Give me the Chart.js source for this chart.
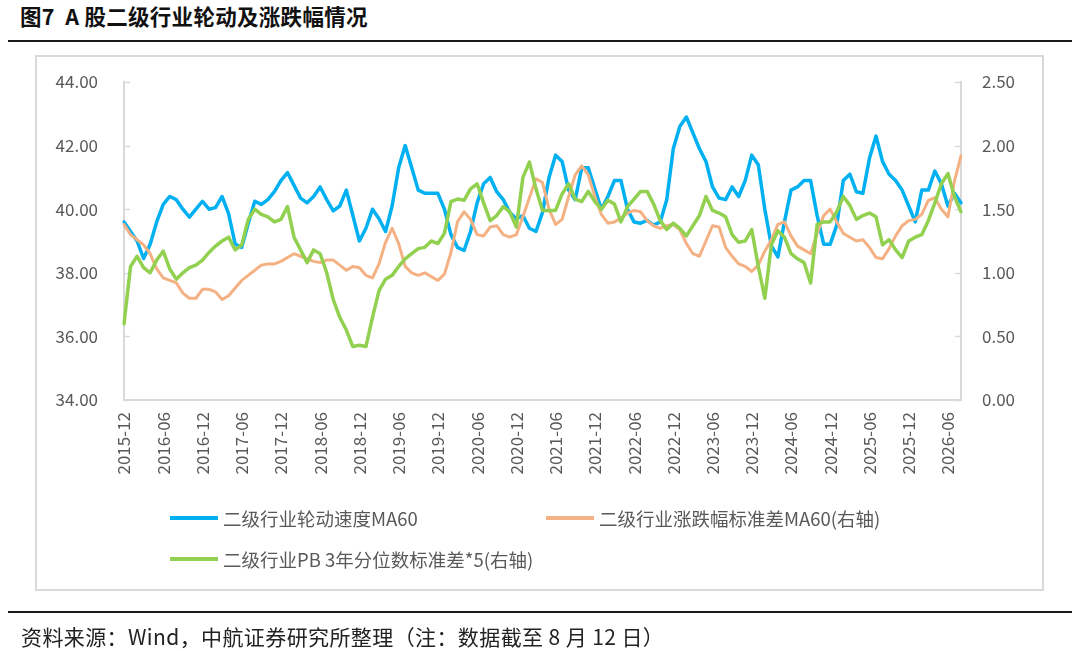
<!DOCTYPE html>
<html>
<head>
<meta charset="utf-8">
<script src="https://cdn.jsdelivr.net/npm/chart.js@4.4.1/dist/chart.umd.min.js"></script>
<style>
    body { margin: 0; background: #fff; }
    #page { position: relative; width: 1080px; height: 651px; overflow: hidden; font-family: "Noto Sans CJK SC", sans-serif; }
    .title { position: absolute; left: 20px; top: 5px; font-size: 21.5px; line-height: 22px; font-weight: bold; color: #111; white-space: pre; letter-spacing: 0.3px; }
    .rule { position: absolute; left: 8px; width: 1064px; height: 2px; background: #1a1a1a; }
    .frame { position: absolute; left: 35px; top: 55px; width: 1005px; height: 532px; border: 2px solid #d9d9d9; }
    #chart { position: absolute; left: 0; top: 0; }
    .legend-item { position: absolute; display: flex; align-items: center; height: 20px; font-size: 18.5px; color: #595959; white-space: nowrap; }
    .legend-item i { display: inline-block; width: 48px; height: 4px; margin-right: 5px; }
    .note { position: absolute; left: 21px; top: 625px; font-size: 21px; line-height: 22px; letter-spacing: 0.4px; color: #222; white-space: nowrap; }
</style>
</head>
<body>
<div id="page">
    <div class="title">图7  A 股二级行业轮动及涨跌幅情况</div>
    <div class="rule" style="top:40px"></div>
    <div class="frame"></div>
    <canvas id="chart" width="1080" height="651"></canvas>
    <div class="legend-item" style="left:170px; top:508px"><i style="background:#00B0F0"></i>二级行业轮动速度MA60</div>
    <div class="legend-item" style="left:546px; top:508px"><i style="background:#F4B183"></i>二级行业涨跌幅标准差MA60(右轴)</div>
    <div class="legend-item" style="left:170px; top:549px"><i style="background:#92D050"></i>二级行业PB 3年分位数标准差*5(右轴)</div>
    <div class="rule" style="top:611px"></div>
    <div class="note">资料来源：Wind，中航证券研究所整理（注：数据截至 8 月 12 日）</div>
</div>
<script>
// monthly samples, 2015-12 .. 2026-08
const startYear = 2015;
const startMonth = 12;
const monthCount = 129;

const tickLabels = ['2015-12', '2016-06', '2016-12', '2017-06', '2017-12', '2018-06', '2018-12',
    '2019-06', '2019-12', '2020-06', '2020-12', '2021-06', '2021-12', '2022-06', '2022-12',
    '2023-06', '2023-12', '2024-06', '2024-12', '2025-06', '2025-12', '2026-06'];

// 二级行业轮动速度MA60 (left axis)
const rotationSpeed = [
    39.6, 39.3, 39.0, 38.45, 38.9, 39.6, 40.15, 40.4, 40.3, 40.0, 39.75, 40.0, 40.25, 40.0, 40.05, 40.4,
    39.85, 38.9, 38.8, 39.55, 40.25, 40.15, 40.3, 40.55, 40.9, 41.15, 40.75, 40.35, 40.2, 40.4, 40.7, 40.3, 39.95,
    40.1, 40.6, 39.8, 39.0, 39.4, 40.0, 39.7, 39.3, 40.1, 41.3, 42.0, 41.3, 40.6, 40.5, 40.5, 40.5,
    40.0, 39.2, 38.8, 38.7, 39.3, 40.2, 40.8, 41.0, 40.55, 40.3, 39.9, 39.7, 39.8, 39.4, 39.3, 39.9, 41.0,
    41.7, 41.5, 40.6, 40.3, 41.3, 41.3, 40.65, 40.0, 40.4, 40.9, 40.9, 40.0, 39.6, 39.56, 39.65, 39.5,
    39.6, 40.3, 41.9, 42.6, 42.9, 42.4, 41.9, 41.5, 40.7, 40.35, 40.3, 40.7, 40.4, 40.9, 41.7, 41.4, 40.0,
    38.85, 38.5, 39.6, 40.6, 40.7, 40.9, 40.9, 39.8, 38.9, 38.9, 39.5, 40.9, 41.1, 40.55, 40.5,
    41.6, 42.3, 41.5, 41.1, 40.9, 40.6, 40.1, 39.6, 40.6, 40.6, 41.2, 40.8, 40.1, 40.5, 40.2
];

// 二级行业涨跌幅标准差MA60 (right axis)
const returnStd = [
    1.38, 1.30, 1.26, 1.22, 1.15, 1.03, 0.96, 0.94, 0.92, 0.84, 0.80, 0.80, 0.87, 0.87, 0.85, 0.79,
    0.82, 0.88, 0.94, 0.98, 1.02, 1.06, 1.07, 1.07, 1.09, 1.12, 1.15, 1.13, 1.11, 1.09, 1.08, 1.10, 1.10,
    1.06, 1.02, 1.05, 1.04, 0.98, 0.96, 1.07, 1.24, 1.35, 1.23, 1.05, 1.00, 0.98, 1.00, 0.97, 0.94,
    0.99, 1.16, 1.40, 1.48, 1.42, 1.30, 1.29, 1.36, 1.37, 1.30, 1.28, 1.30, 1.44, 1.59, 1.74, 1.71, 1.50,
    1.38, 1.42, 1.60, 1.77, 1.84, 1.77, 1.60, 1.46, 1.39, 1.40, 1.43, 1.47, 1.49, 1.48, 1.41, 1.37,
    1.35, 1.37, 1.38, 1.34, 1.23, 1.15, 1.13, 1.25, 1.37, 1.36, 1.20, 1.13, 1.07, 1.05, 1.01, 1.06, 1.17,
    1.26, 1.38, 1.40, 1.29, 1.21, 1.18, 1.15, 1.31, 1.45, 1.50, 1.40, 1.31, 1.28, 1.25, 1.26,
    1.20, 1.12, 1.11, 1.19, 1.29, 1.37, 1.41, 1.42, 1.46, 1.57, 1.59, 1.50, 1.44, 1.72, 1.92
];

// 二级行业PB 3年分位数标准差*5 (right axis)
const pbPercentileStd = [
    0.60, 1.05, 1.13, 1.04, 1.00, 1.10, 1.17, 1.03, 0.95, 1.00, 1.04, 1.06, 1.10, 1.16, 1.21, 1.25,
    1.28, 1.18, 1.22, 1.42, 1.50, 1.46, 1.44, 1.40, 1.42, 1.52, 1.28, 1.18, 1.08, 1.18, 1.15, 1.00, 0.79,
    0.65, 0.55, 0.42, 0.43, 0.42, 0.65, 0.86, 0.95, 0.98, 1.05, 1.11, 1.15, 1.19, 1.20, 1.25, 1.23,
    1.31, 1.56, 1.58, 1.57, 1.66, 1.70, 1.55, 1.41, 1.45, 1.52, 1.48, 1.36, 1.75, 1.87, 1.66, 1.49, 1.49,
    1.49, 1.62, 1.70, 1.58, 1.56, 1.64, 1.56, 1.50, 1.57, 1.54, 1.40, 1.52, 1.58, 1.64, 1.64, 1.54,
    1.41, 1.34, 1.39, 1.35, 1.29, 1.37, 1.45, 1.60, 1.49, 1.47, 1.44, 1.30, 1.24, 1.25, 1.34, 1.05, 0.80,
    1.22, 1.33, 1.28, 1.15, 1.11, 1.08, 0.92, 1.38, 1.40, 1.40, 1.48, 1.60, 1.53, 1.42, 1.45,
    1.47, 1.44, 1.22, 1.26, 1.18, 1.12, 1.25, 1.28, 1.30, 1.41, 1.55, 1.70, 1.78, 1.60, 1.48
];

const months = [];
for (let i = 0; i < monthCount; i++) {
    const total = startYear * 12 + (startMonth - 1) + i;
    const y = Math.floor(total / 12);
    const m = total % 12 + 1;
    months.push(y + '-' + String(m).padStart(2, '0'));
}

const axisGray = '#d9d9d9';
const labelGray = '#595959';
const tickFont = { family: '"Noto Sans CJK SC", sans-serif', size: 17 };

// short tick marks pointing into the plot, like the source chart
const innerTicks = {
    id: 'innerTicks',
    beforeDatasetsDraw(chart) {
        const ctx = chart.ctx;
        ctx.save();
        ctx.strokeStyle = axisGray;
        ctx.lineWidth = 1.5;
        ['y', 'y1'].forEach(id => {
            const scale = chart.scales[id];
            const x = id === 'y' ? scale.right : scale.left;
            const dir = id === 'y' ? 1 : -1;
            scale.ticks.forEach(t => {
                const py = Math.round(scale.getPixelForValue(t.value)) + 0.5;
                ctx.beginPath();
                ctx.moveTo(x, py);
                ctx.lineTo(x + dir * 6, py);
                ctx.stroke();
            });
        });
        ctx.restore();
    }
};

new Chart(document.getElementById('chart'), {
    type: 'line',
    data: {
        labels: months,
        datasets: [
            {
                label: '二级行业轮动速度MA60',
                data: rotationSpeed,
                yAxisID: 'y',
                borderColor: '#00B0F0',
                borderWidth: 3.5,
                order: 2
            },
            {
                label: '二级行业涨跌幅标准差MA60(右轴)',
                data: returnStd,
                yAxisID: 'y1',
                borderColor: '#F4B183',
                borderWidth: 3,
                order: 1
            },
            {
                label: '二级行业PB 3年分位数标准差*5(右轴)',
                data: pbPercentileStd,
                yAxisID: 'y1',
                borderColor: '#92D050',
                borderWidth: 3.5,
                order: 0
            }
        ]
    },
    options: {
        responsive: false,
        animation: false,
        layout: { padding: { top: 82, left: 0, right: 0, bottom: 0 } },
        elements: {
            point: { radius: 0 },
            line: { tension: 0, borderJoinStyle: 'round', borderCapStyle: 'round' }
        },
        plugins: {
            legend: { display: false },
            tooltip: { enabled: false }
        },
        scales: {
            x: {
                grid: { display: false, drawTicks: false },
                border: { display: true, color: axisGray, width: 2 },
                ticks: {
                    autoSkip: false,
                    minRotation: 90,
                    maxRotation: 90,
                    padding: 12,
                    color: labelGray,
                    font: tickFont,
                    callback: function (value) {
                        const lbl = this.getLabelForValue(value);
                        return tickLabels.includes(lbl) ? lbl : '';
                    }
                },
                afterFit: scale => { scale.height = 251; }
            },
            y: {
                position: 'left',
                min: 34,
                max: 44,
                grid: { drawOnChartArea: false, drawTicks: false },
                border: { display: true, color: axisGray, width: 2 },
                ticks: {
                    stepSize: 2,
                    padding: 26,
                    color: labelGray,
                    font: tickFont,
                    callback: v => v.toFixed(2)
                },
                afterFit: scale => { scale.width = 124; }
            },
            y1: {
                position: 'right',
                min: 0,
                max: 2.5,
                grid: { drawOnChartArea: false, drawTicks: false },
                border: { display: true, color: axisGray, width: 2 },
                ticks: {
                    stepSize: 0.5,
                    padding: 21,
                    color: labelGray,
                    font: tickFont,
                    callback: v => v.toFixed(2)
                },
                afterFit: scale => { scale.width = 119; }
            }
        }
    },
    plugins: [innerTicks]
});
</script>
</body>
</html>
